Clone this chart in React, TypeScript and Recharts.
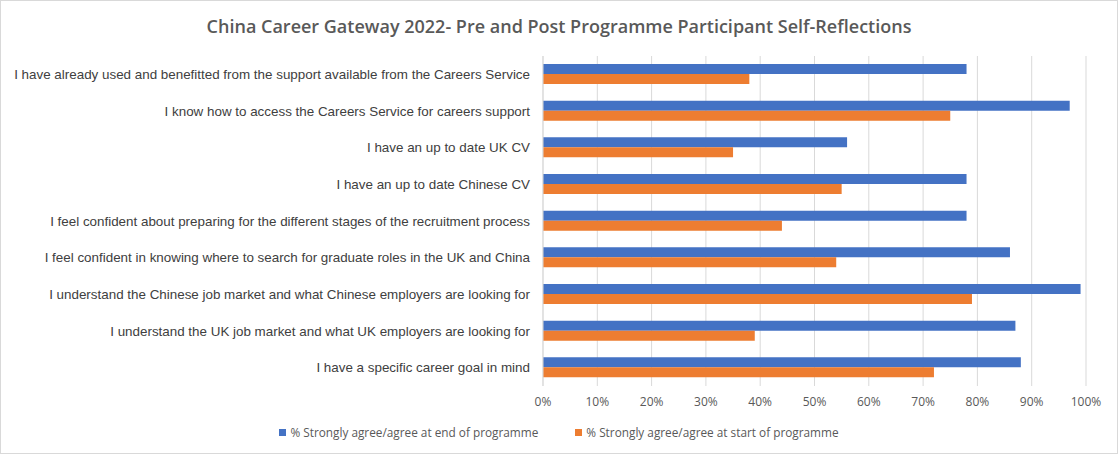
import { BarChart, Bar, XAxis, YAxis, CartesianGrid, Legend } from "recharts";

const categories = [
  "I have already used and benefitted from the support available from the Careers Service",
  "I know how to access the Careers Service for careers support",
  "I have an up to date UK CV",
  "I have an up to date Chinese CV",
  "I feel confident about preparing for the different stages of the recruitment process",
  "I feel confident in knowing where to search for graduate roles in the UK and China",
  "I understand the Chinese job market and what Chinese employers are looking for",
  "I understand the UK job market and what UK employers are looking for",
  "I have a specific career goal in mind",
];
const endValues = [78, 97, 56, 78, 78, 86, 99, 87, 88];
const startValues = [38, 75, 35, 55, 44, 54, 79, 39, 72];
const seriesNames = [
  "% Strongly agree/agree at end of programme",
  "% Strongly agree/agree at start of programme",
];
const xTicks = [0, 10, 20, 30, 40, 50, 60, 70, 80, 90, 100];

const data = categories.map((category, i) => ({
  category,
  end: endValues[i],
  start: startValues[i],
}));

const CategoryTick = ({ x, y, payload }: { x?: number; y?: number; payload?: { value: string } }) => (
  <text
    x={(x ?? 0) - 5}
    y={y}
    textAnchor="end"
    dominantBaseline="central"
    fontSize={13.4}
    fontFamily="Liberation Sans, Arial, sans-serif"
    fill="#404040"
  >
    {payload?.value}
  </text>
);

const LegendContent = ({ payload }: { payload?: Array<{ value: string; color: string }> }) => (
  <div style={{ display: "flex", justifyContent: "center", gap: 37, height: 16 }}>
    {(payload ?? []).map((item) => (
      <div key={item.value} style={{ display: "flex", alignItems: "center" }}>
        <span style={{ width: 7, height: 7, background: item.color, marginRight: 4, display: "inline-block" }} />
        <span style={{ fontFamily: "Open Sans, sans-serif", fontSize: 11.8, color: "#595959" }}>{item.value}</span>
      </div>
    ))}
  </div>
);

export default function App() {
  return (
    <div style={{ position: "fixed", left: 0, top: 0, width: 1118, height: 454, background: "#fff" }}>
      <div
        style={{
          position: "absolute",
          top: 13,
          left: 0,
          width: 1118,
          textAlign: "center",
          fontFamily: "Open Sans, sans-serif",
          fontWeight: 600,
          fontSize: 18,
          color: "#595959",
          lineHeight: "26px",
        }}
      >
        China Career Gateway 2022- Pre and Post Programme Participant Self-Reflections
      </div>
      <BarChart
        layout="vertical"
        width={1118}
        height={454}
        data={data}
        margin={{ top: 56, right: 32, bottom: 32, left: 0 }}
        barSize={10}
        barGap={0}
      >
        <CartesianGrid horizontal={false} stroke="#d9d9d9" />
        <XAxis
          type="number"
          domain={[0, 100]}
          ticks={xTicks}
          tickFormatter={(v: number) => `${v}%`}
          axisLine={false}
          tickLine={false}
          tickMargin={5}
          height={20}
          tick={{ fill: "#595959", fontSize: 12, fontFamily: "Open Sans, sans-serif" }}
        />
        <YAxis
          type="category"
          dataKey="category"
          width={543}
          axisLine={{ stroke: "#d9d9d9" }}
          tickLine={false}
          tick={<CategoryTick />}
          interval={0}
        />
        <Legend
          content={<LegendContent />}
          wrapperStyle={{ top: 424, left: 0, width: 1118 }}
        />
        <Bar dataKey="end" name={seriesNames[0]} fill="#4472C4" isAnimationActive={false} />
        <Bar dataKey="start" name={seriesNames[1]} fill="#ED7D31" isAnimationActive={false} />
      </BarChart>
      <div
        style={{
          position: "absolute",
          inset: 0,
          border: "1px solid #d9d9d9",
          pointerEvents: "none",
        }}
      />
    </div>
  );
}
